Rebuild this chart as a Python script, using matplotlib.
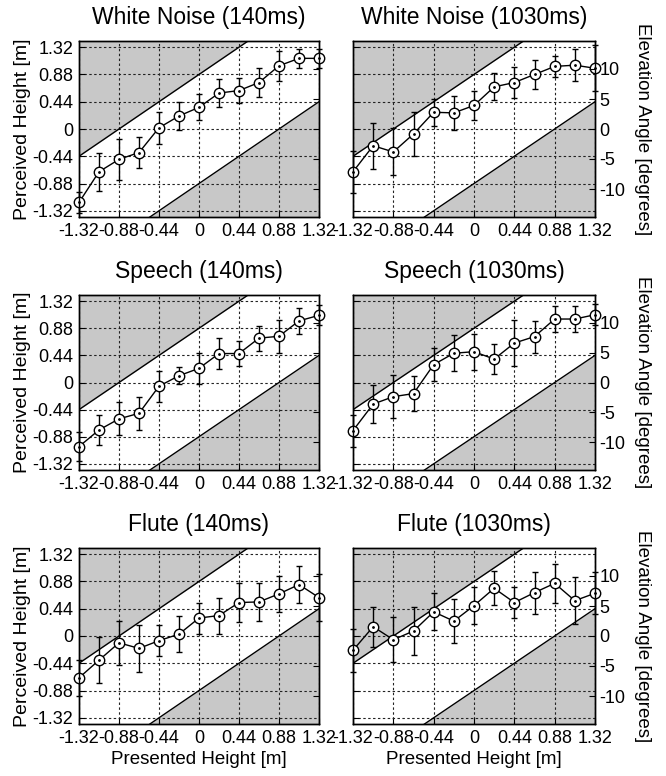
import numpy as np
import matplotlib.pyplot as plt

plt.rcParams['font.family'] = ['Liberation Sans', 'DejaVu Sans']

presented = [-1.32, -1.10, -0.88, -0.66, -0.44, -0.22, 0.0, 0.22, 0.44, 0.66, 0.88, 1.10, 1.32]

titles = ["White Noise (140ms)", "White Noise (1030ms)",
          "Speech (140ms)", "Speech (1030ms)",
          "Flute (140ms)", "Flute (1030ms)"]

wn140_mean = [-1.185, -0.69, -0.49, -0.38, 0.02, 0.21, 0.35, 0.58, 0.62, 0.75, 1.02, 1.14, 1.14]
wn140_err = [0.17, 0.31, 0.33, 0.245, 0.26, 0.23, 0.21, 0.22, 0.20, 0.24, 0.24, 0.15, 0.15]

wn1030_mean = [-0.69, -0.27, -0.37, -0.08, 0.27, 0.26, 0.38, 0.68, 0.75, 0.88, 1.01, 1.03, 0.98]
wn1030_err = [0.34, 0.37, 0.38, 0.36, 0.22, 0.27, 0.23, 0.22, 0.245, 0.24, 0.17, 0.26, 0.37]

sp140_mean = [-1.04, -0.77, -0.59, -0.50, -0.06, 0.11, 0.23, 0.47, 0.47, 0.72, 0.75, 1.00, 1.09]
sp140_err = [0.24, 0.25, 0.27, 0.27, 0.25, 0.135, 0.25, 0.25, 0.21, 0.205, 0.27, 0.21, 0.16]

sp1030_mean = [-0.78, -0.35, -0.23, -0.18, 0.29, 0.475, 0.50, 0.38, 0.64, 0.745, 1.03, 1.03, 1.10]
sp1030_err = [0.26, 0.31, 0.345, 0.28, 0.27, 0.29, 0.29, 0.25, 0.37, 0.26, 0.21, 0.21, 0.17]

fl140_mean = [-0.675, -0.39, -0.11, -0.20, -0.075, 0.03, 0.29, 0.33, 0.54, 0.55, 0.68, 0.83, 0.62]
fl140_err = [0.29, 0.37, 0.35, 0.375, 0.25, 0.29, 0.25, 0.29, 0.32, 0.31, 0.295, 0.295, 0.375]

fl1030_mean = [-0.23, 0.15, -0.06, 0.08, 0.39, 0.24, 0.49, 0.77, 0.54, 0.70, 0.85, 0.57, 0.69]
fl1030_err = [0.35, 0.32, 0.36, 0.38, 0.30, 0.35, 0.30, 0.275, 0.25, 0.34, 0.31, 0.38, 0.34]

means = [wn140_mean, wn1030_mean, sp140_mean, sp1030_mean, fl140_mean, fl1030_mean]
errs = [wn140_err, wn1030_err, sp140_err, sp1030_err, fl140_err, fl1030_err]

tick_vals = [-1.32, -0.88, -0.44, 0, 0.44, 0.88, 1.32]
tick_labels = ['-1.32', '-0.88', '-0.44', '0', '0.44', '0.88', '1.32']
deg_ticks = [-10, -5, 0, 5, 10]
deg_labels = ['-10', '-5', '0', '5', '10']
listener_distance = 5.5   # m, for height -> elevation angle
band_half = 0.88          # half width of the "correct" band
ylim = (-1.42, 1.42)
xlim = (-1.32, 1.32)

fig = plt.figure(figsize=(6.66, 7.76), dpi=100)
W, H = 666, 776
lefts = [79, 353]
widths = [240, 242]
tops = [41, 295, 548]
heights = [176, 175, 176]

grid_kw = dict(color='#222222', linestyle=(0, (2.2, 2.2)), linewidth=0.8)

for i in range(6):
    r, c = divmod(i, 2)
    ax = fig.add_axes([lefts[c] / W, 1 - (tops[r] + heights[r]) / H,
                       widths[c] / W, heights[r] / H])
    ax.set_xlim(*xlim)
    ax.set_ylim(*ylim)
    xs = np.array(xlim)
    ax.fill_between(xs, xs + band_half, ylim[1], color='#c8c8c8', linewidth=0, zorder=0.5)
    ax.fill_between(xs, ylim[0], xs - band_half, color='#c8c8c8', linewidth=0, zorder=0.5)
    ax.plot(xs, xs + band_half, color='black', linewidth=1.0, zorder=2)
    ax.plot(xs, xs - band_half, color='black', linewidth=1.0, zorder=2)
    ax.set_xticks(tick_vals)
    ax.set_xticklabels(tick_labels)
    ax.set_yticks(tick_vals)
    ax.set_yticklabels(tick_labels if c == 0 else [])
    ax.grid(True, **grid_kw)
    ax.errorbar(presented, means[i], yerr=errs[i], color='black', linewidth=1.0,
                elinewidth=1.0, capsize=2, capthick=1.0, marker='o', markersize=7.5,
                markerfacecolor='white', markeredgecolor='black', markeredgewidth=1.0,
                zorder=3, clip_on=False)
    ax.plot(presented, means[i], linestyle='none', marker='.', markersize=2,
            color='black', zorder=4, clip_on=False)
    ax.tick_params(direction='in', length=4, width=0.8, labelsize=13, pad=4,
                   top=False, right=False)
    for s in ax.spines.values():
        s.set_linewidth(1.0)
    ax.set_title(titles[i], fontsize=16.5, pad=12)
    if c == 0:
        ax.set_ylabel('Perceived Height [m]', fontsize=14, labelpad=1)
    if r == 2:
        ax.set_xlabel('Presented Height [m]', fontsize=13.5, labelpad=3)

    ax2 = ax.twinx()
    ax2.set_ylim(*ylim)
    ax2.set_yticks([listener_distance * np.tan(np.deg2rad(d)) for d in deg_ticks])
    ax2.set_yticklabels(deg_labels if c == 1 else [])
    ax2.tick_params(direction='in', length=4, width=0.8, labelsize=13, pad=3)
    for s in ax2.spines.values():
        s.set_linewidth(1.0)
    if c == 1:
        ax2.set_ylabel('Elevation Angle [degrees]', fontsize=13.5, rotation=270)
        ax2.yaxis.set_label_coords(1.23, 0.5)

fig.savefig('out.png', dpi=100)
